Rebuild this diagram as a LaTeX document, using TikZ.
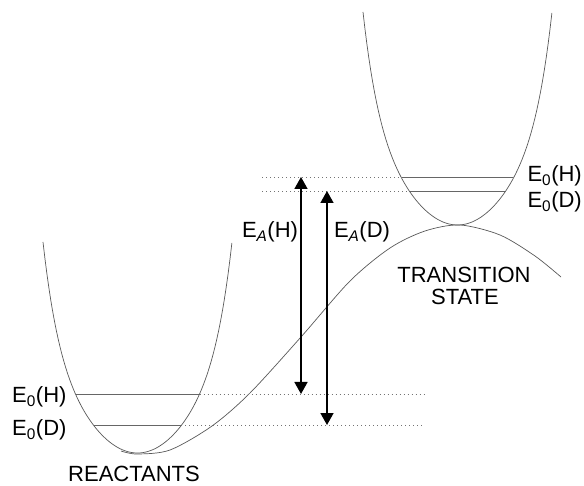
\documentclass[tikz,border=0pt]{standalone}
\usepackage{fontspec}
\setmainfont{Liberation Sans}
\usetikzlibrary{arrows.meta}
\begin{document}
\begin{tikzpicture}[x=1pt,y=-1pt,
  curve/.style={draw=black!65,line width=0.7pt},
  level/.style={draw=black!60,line width=0.7pt},
  dots/.style={draw=black!55,line width=0.7pt,dash pattern=on 1pt off 3pt},
  earrow/.style={line width=1.7pt,{Triangle[length=12pt,width=13pt]}-{Triangle[length=12pt,width=13pt]}},
  lbl/.style={font=\fontsize{22}{26}\selectfont,inner sep=0pt}]
\useasboundingbox (0,0) rectangle (584,486);
% wells
\draw[curve] plot[domain=-1:1,samples=101] ({137.5+94.5*\x},{453-211*(0.6*\x*\x+0.4*abs(\x)^7)});
\draw[curve] plot[domain=-1:1,samples=101] ({457.5+94.5*\x},{225-213*(0.6*\x*\x+0.4*abs(\x)^7)});
% barrier curve
\draw[curve] plot[smooth] coordinates {(121,451) (137,454) (170,450) (212,426) (250,393) (301,337) (350,281) (390,248) (425,231) (460,225) (500,235) (535,256) (561,277)};
% levels
\coordinate (rH1) at (75.5,394); \coordinate (rH2) at (199.5,394);
\coordinate (rD1) at (93.5,425); \coordinate (rD2) at (181,425);
\coordinate (tH1) at (402,177); \coordinate (tH2) at (513,177);
\coordinate (tD1) at (409,191); \coordinate (tD2) at (506,191);
\coordinate (dHl) at (262,177); \coordinate (dDl) at (262,191);
\coordinate (dHr) at (425,394); \coordinate (dDr) at (425,425);
\draw[level] (rH1) -- (rH2);
\draw[level] (rD1) -- (rD2);
\draw[level] (tH1) -- (tH2);
\draw[level] (tD1) -- (tD2);
\draw[dots] (rH2) -- (dHr);
\draw[dots] (rD2) -- (dDr);
\draw[dots] (dHl) -- (tH1);
\draw[dots] (dDl) -- (tD1);
% arrows
\coordinate (aHt) at (301,177); \coordinate (aHb) at (301,394);
\coordinate (aDt) at (327,191); \coordinate (aDb) at (327,425);
\draw[earrow] (aHt) -- (aHb);
\draw[earrow] (aDt) -- (aDb);
% labels
\node[lbl,anchor=east] (l1) at (582,176) {E\textsubscript{0}(H)};
\node[lbl,anchor=east] (l2) at (582,202) {E\textsubscript{0}(D)};
\node[lbl,anchor=west] (l3) at (12,397) {E\textsubscript{0}(H)};
\node[lbl,anchor=west] (l4) at (12,430) {E\textsubscript{0}(D)};
\node[lbl] (l5) at (270,232) {E\textsubscript{\itshape A}(H)};
\node[lbl] (l6) at (362,232) {E\textsubscript{\itshape A}(D)};
\node[lbl] (l7) at (464,275) {TRANSITION};
\node[lbl] (l8) at (465,297) {STATE};
\node[lbl] (l9) at (134,474) {REACTANTS};
\end{tikzpicture}
\end{document}
